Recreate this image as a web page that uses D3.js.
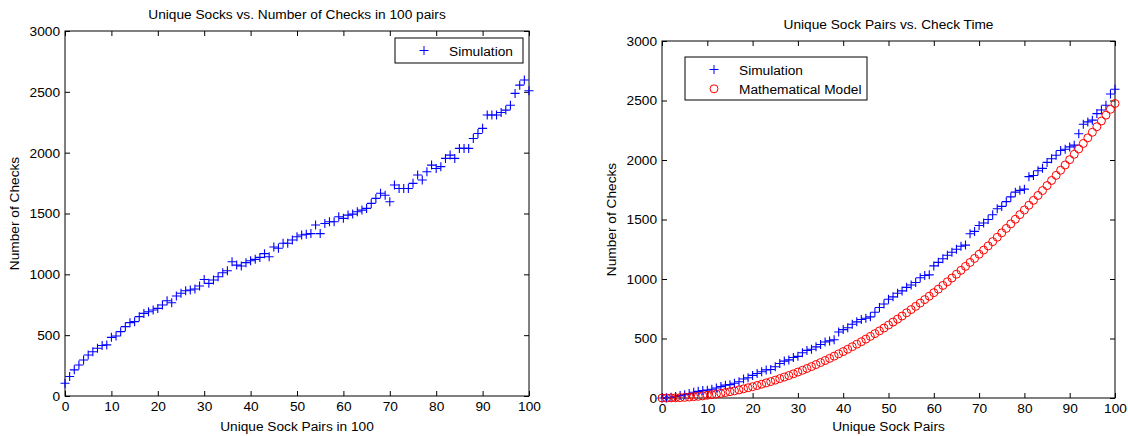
<!DOCTYPE html>
<html>
<head>
<meta charset="utf-8">
<script src="https://cdn.jsdelivr.net/npm/d3@7"></script>
<style>
  body { margin: 0; background: #fff; }
  svg text { font-family: "Liberation Sans", Arial, sans-serif; fill: #000; }
</style>
</head>
<body>
<div id="chart"></div>
<script>
// x values shared by both plots (unique sock pairs 0..100)
var pairs = d3.range(0, 101);

// left plot: simulated checks in 100 pairs
var simChecks = [
  105, 160, 215, 255, 296, 337, 364, 392, 415, 420,
  482, 493, 529, 570, 603, 611, 652, 679, 693, 707,
  720, 748, 783, 767, 822, 844, 865, 871, 880, 904,
  958, 926, 953, 980, 1013, 1030, 1104, 1076, 1068, 1096,
  1112, 1123, 1139, 1170, 1145, 1225, 1215, 1255, 1255, 1282,
  1309, 1323, 1330, 1335, 1405, 1335, 1418, 1432, 1432, 1473,
  1460, 1487, 1495, 1514, 1528, 1542, 1583, 1624, 1666, 1650,
  1597, 1734, 1706, 1706, 1706, 1748, 1816, 1775, 1843, 1898,
  1870, 1885, 1953, 1980, 1953, 2035, 2035, 2035, 2117, 2158,
  2200, 2310, 2310, 2310, 2330, 2350, 2390, 2487, 2555, 2597,
  2509
];

// right plot: simulation vs mathematical model
var simTime = [
  0, 2, 6, 12, 20, 28, 38, 48, 56, 62,
  66, 74, 84, 96, 108, 112, 124, 136, 160, 170,
  190, 206, 220, 236, 240, 262, 290, 310, 320, 340,
  350, 380, 400, 410, 430, 450, 470, 480, 490, 555,
  575, 590, 620, 640, 660, 670, 682, 720, 760, 790,
  830, 850, 880, 900, 930, 950, 970, 1010, 1030, 1035,
  1110, 1140, 1170, 1200, 1225, 1250, 1275, 1285, 1380, 1400,
  1450, 1470, 1500, 1540, 1590, 1610, 1650, 1690, 1730, 1745,
  1755, 1860, 1870, 1910, 1930, 1980, 2010, 2040, 2080, 2090,
  2110, 2125, 2220, 2300, 2320, 2335, 2390, 2420, 2460, 2555,
  2595
];
var modelTime = [
  0, 0, 1, 2, 3, 5, 8, 11, 14, 18,
  23, 28, 33, 39, 46, 53, 60, 68, 77, 86,
  95, 105, 116, 127, 138, 150, 163, 176, 189, 203,
  218, 233, 248, 264, 281, 298, 315, 333, 352, 371,
  390, 410, 431, 452, 473, 495, 518, 541, 564, 588,
  613, 638, 663, 689, 716, 743, 770, 798, 827, 856,
  885, 915, 946, 977, 1008, 1040, 1073, 1106, 1139, 1173,
  1208, 1243, 1278, 1314, 1351, 1388, 1425, 1463, 1502, 1541,
  1580, 1620, 1661, 1702, 1743, 1785, 1828, 1871, 1914, 1958,
  2003, 2048, 2093, 2139, 2186, 2233, 2280, 2328, 2377, 2426,
  2475
];

var xTicks = [0, 10, 20, 30, 40, 50, 60, 70, 80, 90, 100];
var yTicks = [0, 500, 1000, 1500, 2000, 2500, 3000];

var width = 1128, height = 436;
var fontSize = "13.7px";

var svg = d3.select("#chart").append("svg")
  .attr("width", width)
  .attr("height", height);

var blue = "#0000ff", red = "#ff0000";

function plusPath(s) {
  return "M" + (-s) + ",0H" + s + "M0," + (-s) + "V" + s;
}

function drawPanel(opt) {
  var x = d3.scaleLinear().domain([0, 100]).range([opt.left, opt.right]);
  var y = d3.scaleLinear().domain([0, 3000]).range([opt.bottom, opt.top]);
  var g = svg.append("g");

  // axes with inward ticks
  var ax = [
    { a: d3.axisBottom(x), t: "translate(0," + opt.bottom + ")", labels: true },
    { a: d3.axisTop(x), t: "translate(0," + opt.top + ")", labels: false },
    { a: d3.axisLeft(y), t: "translate(" + opt.left + ",0)", labels: true },
    { a: d3.axisRight(y), t: "translate(" + opt.right + ",0)", labels: false }
  ];
  ax.forEach(function (d, i) {
    var vals = i < 2 ? xTicks : yTicks;
    var axis = d.a.tickValues(vals).tickSizeInner(-5).tickSizeOuter(0)
      .tickPadding(i < 2 ? 5 : 5)
      .tickFormat(d.labels ? d3.format("d") : "");
    var ag = g.append("g").attr("transform", d.t).call(axis);
    ag.select(".domain").remove();
    ag.selectAll("line").attr("stroke", "#000");
    ag.selectAll("text").style("font-size", fontSize).attr("fill", "#000");
    ag.attr("font-family", null);
  });

  g.append("rect")
    .attr("x", opt.left).attr("y", opt.top)
    .attr("width", opt.right - opt.left).attr("height", opt.bottom - opt.top)
    .attr("fill", "none").attr("stroke", "#000").attr("stroke-width", 1);

  // series
  opt.series.forEach(function (s) {
    var sg = g.append("g");
    if (s.marker === "plus") {
      sg.selectAll("path").data(s.values).enter().append("path")
        .attr("transform", function (d, i) { return "translate(" + x(pairs[i]) + "," + y(d) + ")"; })
        .attr("d", plusPath(4.5))
        .attr("stroke", s.color).attr("stroke-width", 1.1).attr("fill", "none");
    } else {
      sg.selectAll("circle").data(s.values).enter().append("circle")
        .attr("cx", function (d, i) { return x(pairs[i]); })
        .attr("cy", function (d) { return y(d); })
        .attr("r", 4)
        .attr("stroke", s.color).attr("stroke-width", 1).attr("fill", "none");
    }
  });

  // titles and labels
  g.append("text")
    .attr("x", (opt.left + opt.right) / 2).attr("y", opt.titleY)
    .attr("text-anchor", "middle").style("font-size", fontSize)
    .text(opt.title);
  g.append("text")
    .attr("x", (opt.left + opt.right) / 2).attr("y", 431)
    .attr("text-anchor", "middle").style("font-size", fontSize)
    .text(opt.xLabel);
  g.append("text")
    .attr("transform", "translate(" + opt.yLabelX + "," + ((opt.top + opt.bottom) / 2) + ") rotate(-90)")
    .attr("text-anchor", "middle").style("font-size", fontSize)
    .text("Number of Checks");

  // legend
  var lg = g.append("g");
  lg.append("rect")
    .attr("x", opt.legend.x).attr("y", opt.legend.y)
    .attr("width", opt.legend.w).attr("height", opt.legend.h)
    .attr("fill", "#fff").attr("stroke", "#000");
  opt.series.forEach(function (s, i) {
    var cy = opt.legend.y + 12.5 + i * 19.3;
    var mx = opt.legend.x + 29;
    if (s.marker === "plus") {
      lg.append("path").attr("transform", "translate(" + mx + "," + cy + ")")
        .attr("d", plusPath(4.5)).attr("stroke", s.color).attr("fill", "none");
    } else {
      lg.append("circle").attr("cx", mx).attr("cy", cy).attr("r", 4)
        .attr("stroke", s.color).attr("fill", "none");
    }
    lg.append("text")
      .attr("x", mx + 25).attr("y", cy + 5)
      .style("font-size", fontSize)
      .text(s.name);
  });
}

drawPanel({
  left: 65, right: 529, top: 31, bottom: 396,
  title: "Unique Socks vs. Number of Checks in 100 pairs",
  titleY: 19,
  xLabel: "Unique Sock Pairs in 100",
  yLabelX: 19,
  legend: { x: 395, y: 38, w: 128, h: 25 },
  series: [{ name: "Simulation", values: simChecks, color: blue, marker: "plus" }]
});

drawPanel({
  left: 662, right: 1115, top: 41, bottom: 398,
  title: "Unique Sock Pairs vs. Check Time",
  titleY: 29,
  xLabel: "Unique Sock Pairs",
  yLabelX: 616,
  legend: { x: 685, y: 57, w: 182, h: 43 },
  series: [
    { name: "Simulation", values: simTime, color: blue, marker: "plus" },
    { name: "Mathematical Model", values: modelTime, color: red, marker: "circle" }
  ]
});
</script>
</body>
</html>
